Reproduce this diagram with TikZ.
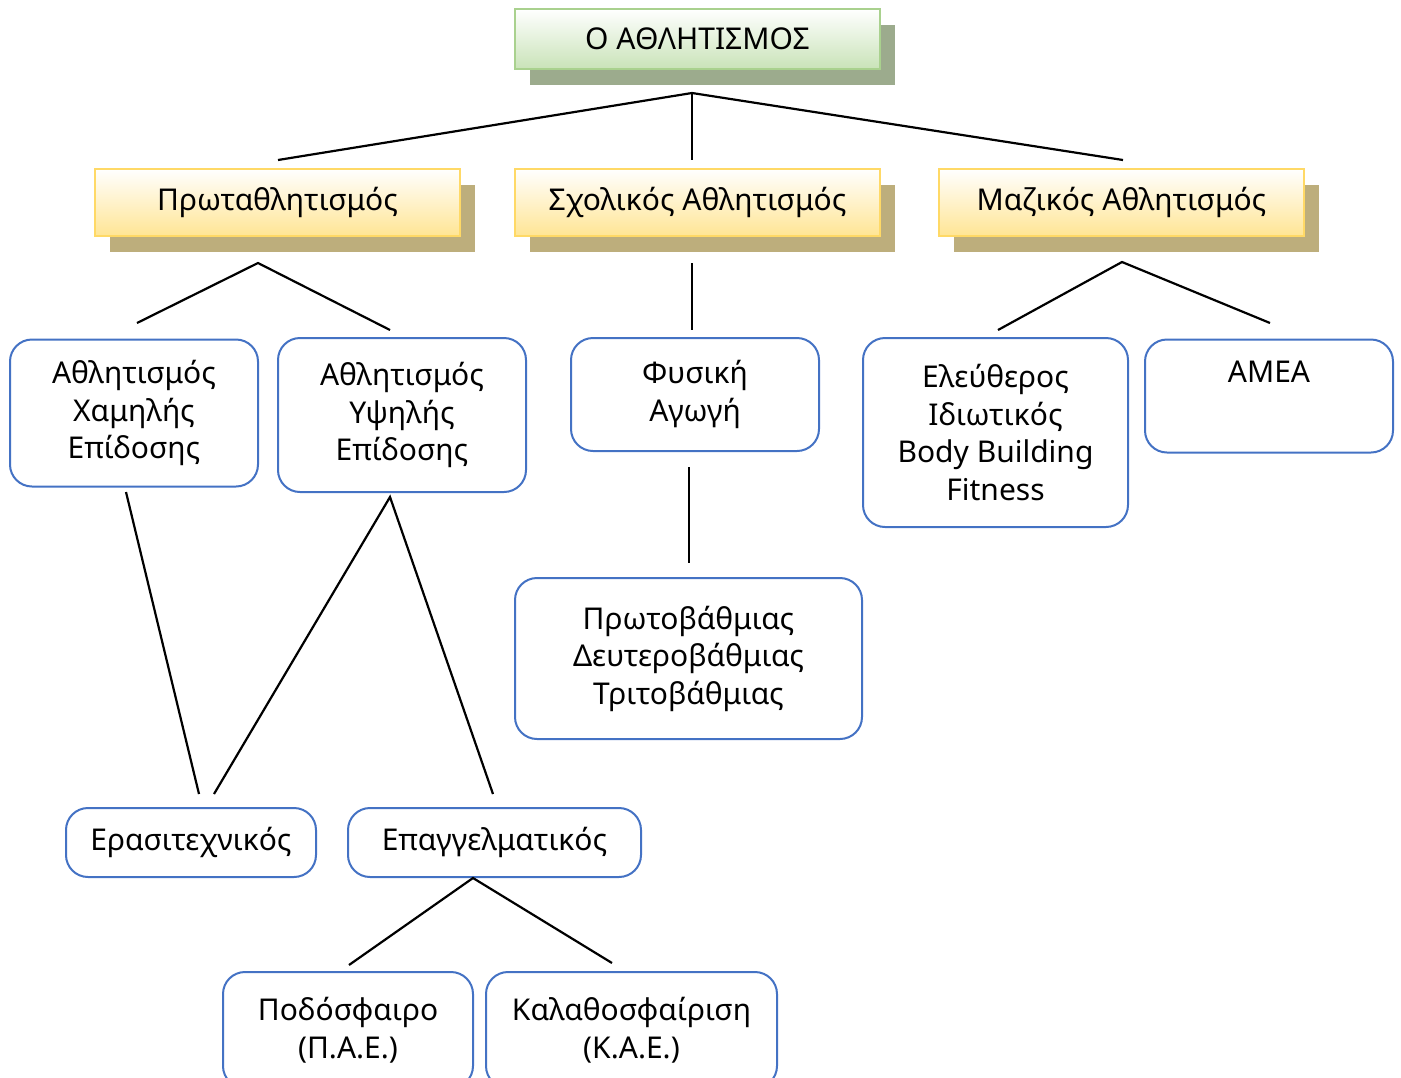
\documentclass[tikz,border=0pt]{standalone}
\usepackage{fontspec}
\setmainfont{Noto Sans}
\usetikzlibrary{positioning,shadows}
\definecolor{boxblue}{HTML}{4472C4}
\definecolor{greenline}{HTML}{A9D18E}
\definecolor{greenfill}{HTML}{C9E3B8}
\definecolor{greenshadow}{HTML}{9CAB8D}
\definecolor{yellowline}{HTML}{FFD966}
\definecolor{yellowfill}{HTML}{FFE594}
\definecolor{yellowshadow}{HTML}{BDAE7C}

\begin{document}
\begin{tikzpicture}
	[ x=1pt,y=-1pt,
		every node/.style={font=\fontsize{30}{37.5}\selectfont,align=center,inner sep=0pt},
		headbox/.style={rectangle,draw=greenline,line width=1.5pt,top color=white,bottom color=greenfill,
			minimum width=365pt,minimum height=60pt,
			drop shadow={shadow xshift=15pt,shadow yshift=-16pt,fill=greenshadow,opacity=1}},
		branch/.style={rectangle,draw=yellowline,line width=1.5pt,top color=white,bottom color=yellowfill,
			minimum width=365pt,minimum height=67pt,
			drop shadow={shadow xshift=15pt,shadow yshift=-16pt,fill=yellowshadow,opacity=1}},
		leaf/.style={rectangle,rounded corners=22pt,draw=boxblue,line width=2pt,fill=white},
		link/.style={line width=2.2pt}]

	\useasboundingbox (0,0) rectangle (1401,1077);

	% top and the three branches
	\node[headbox] (sport) at (697.5,39) {Ο ΑΘΛΗΤΙΣΜΟΣ};
	\node[branch] (champ) at (277.5,202.5) {Πρωταθλητισμός};
	\node[branch] (school) at (697.5,202.5) {Σχολικός Αθλητισμός};
	\node[branch] (mass) at (1121.5,202.5) {Μαζικός Αθλητισμός};

	% second level
	\node[leaf,minimum width=248pt,minimum height=147pt] (low) at (134,413) {Αθλητισμός\\Χαμηλής\\Επίδοσης};
	\node[leaf,minimum width=248pt,minimum height=154pt] (high) at (402,415) {Αθλητισμός\\Υψηλής\\Επίδοσης};
	\node[leaf,minimum width=248pt,minimum height=113pt] (phys) at (695,394.5) {Φυσική\\Αγωγή};
	\node[leaf,minimum width=265pt,minimum height=189pt] (free) at (995.5,432.5) {Ελεύθερος\\Ιδιωτικός\\Body Building\\Fitness};
	\node[leaf,minimum width=248pt,minimum height=113pt] (amea) at (1269,396) {ΑΜΕΑ\\ \strut};

	% lower levels
	\node[leaf,minimum width=347pt,minimum height=161pt] (grades) at (688.5,658.5) {Πρωτοβάθμιας\\Δευτεροβάθμιας\\Τριτοβάθμιας};
	\node[leaf,minimum width=250pt,minimum height=69pt] (amateur) at (191,842.5) {Ερασιτεχνικός};
	\node[leaf,minimum width=293pt,minimum height=69pt] (pro) at (494.5,842.5) {Επαγγελματικός};
	\node[leaf,minimum width=250pt,minimum height=116pt] (football) at (348,1030) {Ποδόσφαιρο\\(Π.Α.Ε.)};
	\node[leaf,minimum width=291pt,minimum height=116pt] (basket) at (631.5,1030) {Καλαθοσφαίριση\\(Κ.Α.Ε.)};

	% connector ends
	\coordinate (sportFork) at (692,93);
	\coordinate (champTop) at (278,160);
	\coordinate (schoolTop) at (692,160);
	\coordinate (massTop) at (1123,160);
	\coordinate (champFork) at (258,263);
	\coordinate (lowTop) at (137,323);
	\coordinate (highTop) at (390,330);
	\coordinate (schoolFoot) at (692,263);
	\coordinate (physTop) at (692,330);
	\coordinate (massFork) at (1122,262);
	\coordinate (freeTop) at (998,330);
	\coordinate (ameaTop) at (1270,323);
	\coordinate (physFoot) at (689,467);
	\coordinate (gradesTop) at (689,563);
	\coordinate (lowFoot) at (126,492);
	\coordinate (highFork) at (390,497);
	\coordinate (amateurLeft) at (199,794);
	\coordinate (amateurRight) at (214,794);
	\coordinate (proTop) at (493,794);
	\coordinate (proFork) at (473,878);
	\coordinate (footballTop) at (349,965);
	\coordinate (basketTop) at (612,963);

	\draw[link] (champTop) -- (sportFork) -- (massTop);
	\draw[link] (sportFork) -- (schoolTop);
	\draw[link] (lowTop) -- (champFork) -- (highTop);
	\draw[link] (schoolFoot) -- (physTop);
	\draw[link] (freeTop) -- (massFork) -- (ameaTop);
	\draw[link] (physFoot) -- (gradesTop);
	\draw[link] (lowFoot) -- (amateurLeft);
	\draw[link] (amateurRight) -- (highFork) -- (proTop);
	\draw[link] (footballTop) -- (proFork) -- (basketTop);
\end{tikzpicture}
\end{document}
